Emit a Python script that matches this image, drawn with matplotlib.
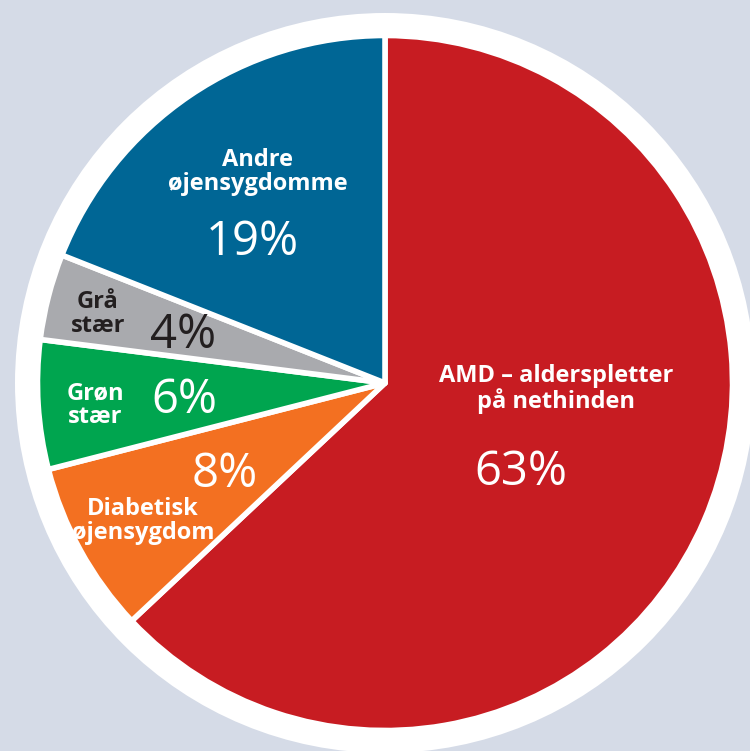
import matplotlib
matplotlib.use("Agg")
import matplotlib.pyplot as plt
from matplotlib.patches import Circle

# slices, clockwise from 12 o'clock
labels = ["AMD – alderspletter\npå nethinden", "Diabetisk\nøjensygdom", "Grøn\nstær",
          "Grå\nstær", "Andre\nøjensygdomme"]
shares = [63, 8, 6, 4, 19]
colors = ["#c71c22", "#f37021", "#00a54f", "#a9aaae", "#006695"]
text_colors = ["white", "white", "white", "#231f20", "white"]

# label placement in picture pixels (x, last-line baseline) and percentage (x, baseline)
label_pos = [(556, 408), (143, 539), (95, 423), (98, 332), (258, 190)]
pct_pos = [(521, 485), (225, 487), (184, 413), (183, 348), (252, 255)]

W, H = 750, 751
cx, cy = 385, 383
r = 345

plt.rcParams['font.family'] = ['Open Sans', 'DejaVu Sans']

fig = plt.figure(figsize=(7.5, 7.51), dpi=100, facecolor="#d5dbe7")
ax = fig.add_axes([0, 0, 1, 1])
ax.set_facecolor("#d5dbe7")

ax.add_patch(Circle((cx, H - cy), 370, facecolor="white", edgecolor="none", zorder=0))
ax.pie(shares, colors=colors, startangle=90, counterclock=False,
       center=(cx, H - cy), radius=r + 2.5,
       wedgeprops=dict(edgecolor="white", linewidth=4, joinstyle="round"))

for lab, (x, y), c in zip(labels, label_pos, text_colors):
    ax.text(x, H - y, lab, ha="center", va="baseline", color=c,
            fontsize=17, fontweight="bold", linespacing=1.0, multialignment="center")

for s, (x, y), c in zip(shares, pct_pos, text_colors):
    ax.text(x, H - y, f"{s}%", ha="center", va="baseline", color=c, fontsize=34)

ax.set_xlim(0, W)
ax.set_ylim(0, H)
ax.set_aspect("equal")
ax.axis("off")

fig.savefig("out.png", dpi=100, facecolor=fig.get_facecolor())
